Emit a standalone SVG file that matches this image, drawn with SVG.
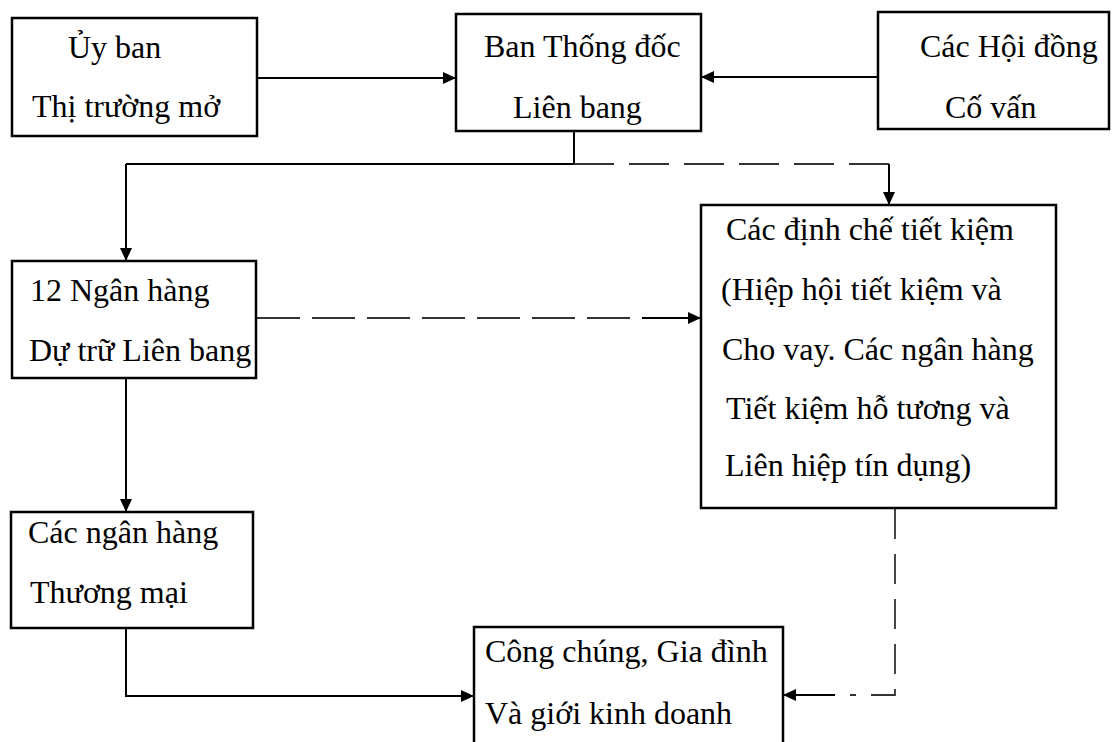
<svg xmlns="http://www.w3.org/2000/svg" width="1112" height="742" viewBox="0 0 1112 742">
<style>
.box{fill:#fff;stroke:#000;stroke-width:2.5}
.t{font-family:"Liberation Serif","Times New Roman",serif;font-size:32px;fill:#000}
.solid{fill:none;stroke:#000;stroke-width:2}
.dash{fill:none;stroke:#333;stroke-width:1.8}
</style>
<defs>
<marker id="ah" markerUnits="userSpaceOnUse" markerWidth="14" markerHeight="12" refX="13" refY="6" orient="auto">
<path d="M0,0 L13,6 L0,12 z" fill="#000"/>
</marker>
</defs>
<rect width="1112" height="742" fill="#fff"/>
<g id="connectors">
<line class="solid" x1="257" y1="78" x2="456" y2="78" marker-end="url(#ah)"/>
<line class="solid" x1="878" y1="77" x2="701" y2="77" marker-end="url(#ah)"/>
<line class="solid" x1="574" y1="131" x2="574" y2="164"/>
<line class="solid" x1="126" y1="164" x2="574" y2="164"/>
<line class="solid" x1="126" y1="164" x2="126" y2="261" marker-end="url(#ah)"/>
<line class="dash" x1="574" y1="164" x2="889" y2="164" stroke-dasharray="40 15"/>
<line class="solid" x1="889" y1="164" x2="889" y2="205" marker-end="url(#ah)"/>
<line class="dash" x1="257" y1="318" x2="632" y2="318" stroke-dasharray="43 12"/>
<line class="solid" x1="642" y1="318" x2="701" y2="318" marker-end="url(#ah)"/>
<line class="solid" x1="126" y1="378" x2="126" y2="512" marker-end="url(#ah)"/>
<path class="solid" d="M126,628 V696 H474" marker-end="url(#ah)"/>
<path class="dash" d="M895,509 V695 H850" stroke-dasharray="30 15"/>
<line class="solid" x1="835" y1="695" x2="783" y2="695" marker-end="url(#ah)"/>
</g>
<g id="n1">
<rect class="box" x="12" y="18" width="245" height="118"/>
<text class="t" x="68" y="58">Ủy ban</text>
<text class="t" x="32" y="117">Thị trường mở</text>
</g>
<g id="n2">
<rect class="box" x="456" y="14" width="245" height="117"/>
<text class="t" x="484" y="57">Ban Thống đốc</text>
<text class="t" x="513" y="118">Liên bang</text>
</g>
<g id="n3">
<rect class="box" x="878" y="12" width="231" height="117"/>
<text class="t" x="920" y="57">Các Hội đồng</text>
<text class="t" x="945" y="118">Cố vấn</text>
</g>
<g id="n4">
<rect class="box" x="12" y="261" width="244" height="117"/>
<text class="t" x="30" y="301">12 Ngân hàng</text>
<text class="t" x="29" y="361">Dự trữ Liên bang</text>
</g>
<g id="n5">
<rect class="box" x="701" y="205" width="355" height="303"/>
<text class="t" x="726" y="240">Các định chế tiết kiệm</text>
<text class="t" x="721" y="300">(Hiệp hội tiết kiệm và</text>
<text class="t" x="722" y="360">Cho vay. Các ngân hàng</text>
<text class="t" x="726" y="419">Tiết kiệm hỗ tương và</text>
<text class="t" x="725" y="476">Liên hiệp tín dụng)</text>
</g>
<g id="n6">
<rect class="box" x="11" y="512" width="242" height="116"/>
<text class="t" x="28" y="543">Các ngân hàng</text>
<text class="t" x="30" y="603">Thương mại</text>
</g>
<g id="n7">
<rect class="box" x="474" y="627" width="309" height="130"/>
<text class="t" x="485" y="662">Công chúng, Gia đình</text>
<text class="t" x="485" y="724">Và giới kinh doanh</text>
</g>
</svg>
